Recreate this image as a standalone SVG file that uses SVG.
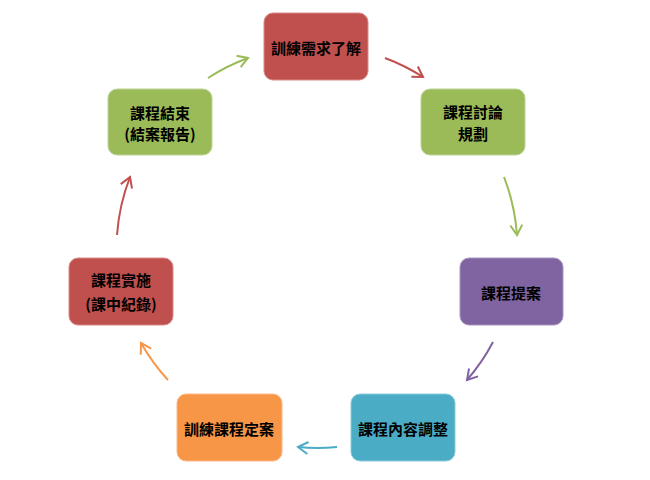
<svg xmlns="http://www.w3.org/2000/svg" width="650" height="480" viewBox="0 0 650 480">
<style>
.box{stroke-width:1}
.t{font-family:"Noto Sans CJK TC","Noto Sans CJK SC",sans-serif;font-size:15px;font-weight:bold;fill:#000;text-anchor:middle;dominant-baseline:central}
.c{fill:none;stroke-width:2}
</style>
<defs>
<marker id="mr" markerUnits="userSpaceOnUse" markerWidth="20" markerHeight="20" refX="0" refY="0" viewBox="-12 -10 14 20" orient="auto"><path d="M-10,-6 L0,0 L-10,6" fill="none" stroke="#C0504D" stroke-width="2"/></marker>
<marker id="mg" markerUnits="userSpaceOnUse" markerWidth="20" markerHeight="20" refX="0" refY="0" viewBox="-12 -10 14 20" orient="auto"><path d="M-10,-6 L0,0 L-10,6" fill="none" stroke="#9BBB59" stroke-width="2"/></marker>
<marker id="mp" markerUnits="userSpaceOnUse" markerWidth="20" markerHeight="20" refX="0" refY="0" viewBox="-12 -10 14 20" orient="auto"><path d="M-10,-6 L0,0 L-10,6" fill="none" stroke="#8064A2" stroke-width="2"/></marker>
<marker id="mb" markerUnits="userSpaceOnUse" markerWidth="20" markerHeight="20" refX="0" refY="0" viewBox="-12 -10 14 20" orient="auto"><path d="M-10,-6 L0,0 L-10,6" fill="none" stroke="#4BACC6" stroke-width="2"/></marker>
<marker id="mo" markerUnits="userSpaceOnUse" markerWidth="20" markerHeight="20" refX="0" refY="0" viewBox="-12 -10 14 20" orient="auto"><path d="M-10,-6 L0,0 L-10,6" fill="none" stroke="#F79646" stroke-width="2"/></marker>
</defs>
<rect width="650" height="480" fill="#fff"/>
<g id="connectors">
<path class="c" stroke="#C0504D" marker-end="url(#mr)" d="M385,58 A200,200 0 0 1 423,77"/>
<path class="c" stroke="#9BBB59" marker-end="url(#mg)" d="M504,177 A200,200 0 0 1 517,235"/>
<path class="c" stroke="#8064A2" marker-end="url(#mp)" d="M493,342 A200,200 0 0 1 467,380"/>
<path class="c" stroke="#4BACC6" marker-end="url(#mb)" d="M337,447 A200,200 0 0 1 298,447"/>
<path class="c" stroke="#F79646" marker-end="url(#mo)" d="M168,380 A200,200 0 0 1 141,343"/>
<path class="c" stroke="#C0504D" marker-end="url(#mr)" d="M117,235 A200,200 0 0 1 130,177"/>
<path class="c" stroke="#9BBB59" marker-end="url(#mg)" d="M208,78 A200,200 0 0 1 248,58"/>
</g>
<g id="n1"><rect class="box" x="264" y="13" width="104" height="67" rx="9" fill="#C0504D" stroke="#D88A88"/><text class="t" x="316" y="47">訓練需求了解</text></g>
<g id="n2"><rect class="box" x="421" y="89" width="104" height="66" rx="9" fill="#9BBB59" stroke="#BCD397"/><text class="t" x="473" y="111">課程討論</text><text class="t" x="473" y="133">規劃</text></g>
<g id="n3"><rect class="box" x="460" y="258" width="103" height="67" rx="9" fill="#8064A2" stroke="#A895C0"/><text class="t" x="511" y="292">課程提案</text></g>
<g id="n4"><rect class="box" x="351" y="394" width="104" height="67" rx="9" fill="#4BACC6" stroke="#8DCBDB"/><text class="t" x="403" y="428">課程內容調整</text></g>
<g id="n5"><rect class="box" x="177" y="394" width="105" height="67" rx="9" fill="#F79646" stroke="#F9B98A"/><text class="t" x="229" y="428">訓練課程定案</text></g>
<g id="n6"><rect class="box" x="69" y="258" width="104" height="67" rx="9" fill="#C0504D" stroke="#D88A88"/><text class="t" x="121" y="279">課程實施</text><text class="t" x="121" y="303">(課中紀錄)</text></g>
<g id="n7"><rect class="box" x="108" y="89" width="104" height="66" rx="9" fill="#9BBB59" stroke="#BCD397"/><text class="t" x="160" y="112">課程結束</text><text class="t" x="160" y="133">(結案報告)</text></g>
</svg>
